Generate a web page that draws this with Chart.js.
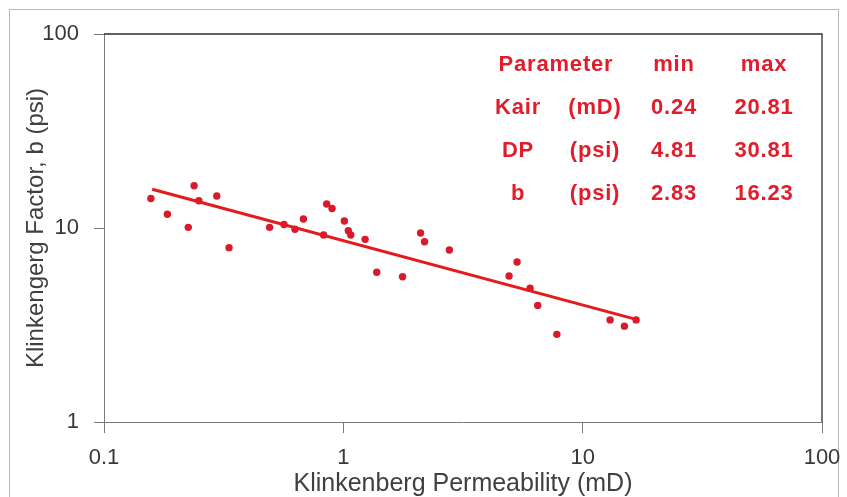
<!DOCTYPE html>
<html>
<head>
<meta charset="utf-8">
<title>Klinkenberg factor vs permeability</title>
<script src="https://cdn.jsdelivr.net/npm/chart.js@4.4.1/dist/chart.umd.min.js"></script>
<style>
  html, body { margin: 0; padding: 0; background: #fff; }
  #wrap { position: relative; width: 847px; height: 497px; overflow: hidden; }
  #frame { position: absolute; left: 9px; top: 9px; width: 830px; height: 510px;
           border: 1px solid #b8b8b8; box-sizing: border-box; pointer-events: none; }
  #chartBox { position: absolute; left: 0; top: 0; width: 847px; height: 497px; }
  #params { position: absolute; left: 0; top: 0; width: 847px; height: 497px;
            font: bold 22px "Liberation Sans", Arial, sans-serif; letter-spacing: 0.8px;
            color: #e21d2b; pointer-events: none; }
  .cell { position: absolute; transform: translate(-50%, -50%); white-space: nowrap; }
</style>
</head>
<body>
<div id="wrap">
  <div id="frame"></div>
  <div id="chartBox"><canvas id="kChart"></canvas></div>
  <div id="params"></div>
</div>
<script>
// Klinkenberg permeability (mD) and Klinkenberg factor b (psi)
const kPerm = [
  0.157, 0.184, 0.238, 0.225, 0.249, 0.296, 0.333, 0.492, 0.565, 0.628,
  0.681, 0.827, 0.852, 0.897, 1.01, 1.049, 1.074, 1.233, 1.379, 1.768,
  2.102, 2.184, 2.773, 4.925, 5.32, 6.03, 6.49, 7.8, 13.02, 14.94, 16.72,
];
const bFactor = [
  14.2, 11.77, 16.52, 10.08, 13.82, 14.62, 7.92, 10.08, 10.42, 9.85,
  11.13, 9.2, 13.3, 12.6, 10.87, 9.68, 9.2, 8.74, 5.91, 5.61,
  9.42, 8.5, 7.7, 5.66, 6.68, 4.89, 3.99, 2.83, 3.36, 3.12, 3.36,
];

// power-law trend line end points
const trendK = [0.159, 16.72];
const trendB = [15.83, 3.38];

// axis ticks
const xTicks = [0.1, 1, 10, 100];
const yTicks = [1, 10, 100];

// parameter table
const paramHeader = ["Parameter", "min", "max"];
const paramNames = ["Kair", "DP", "b"];
const paramUnits = ["(mD)", "(psi)", "(psi)"];
const paramMin = ["0.24", "4.81", "2.83"];
const paramMax = ["20.81", "30.81", "16.23"];

const RED_DOT = "#d91a2b";
const RED_LINE = "#e41a1e";
const AXIS_FONT = "'Liberation Sans', Arial, sans-serif";

// Parameter table as real text
function buildTable() {
  const box = document.getElementById("params");
  const colX = [518, 595, 674, 764];
  const rowY = [64, 107, 150, 193];
  const add = (text, x, y) => {
    const el = document.createElement("div");
    el.className = "cell";
    el.textContent = text;
    el.style.left = x + "px";
    el.style.top = y + "px";
    box.appendChild(el);
  };
  add(paramHeader[0], 556, rowY[0]);
  add(paramHeader[1], colX[2], rowY[0]);
  add(paramHeader[2], colX[3], rowY[0]);
  paramNames.forEach((name, i) => {
    add(name, colX[0], rowY[i + 1]);
    add(paramUnits[i], colX[1], rowY[i + 1]);
    add(paramMin[i], colX[2], rowY[i + 1]);
    add(paramMax[i], colX[3], rowY[i + 1]);
  });
}

// Top and right edges of the plot box
const plotFrame = {
  id: "plotFrame",
  beforeDatasetsDraw(chart) {
    const { ctx, chartArea: a } = chart;
    ctx.save();
    ctx.strokeStyle = "#2e2e2e";
    ctx.lineWidth = 1.3;
    ctx.beginPath();
    ctx.moveTo(a.left, a.top);
    ctx.lineTo(a.right, a.top);
    ctx.lineTo(a.right, a.bottom);
    ctx.stroke();
    ctx.restore();
  },
};

function initChart(canvas) {
  new Chart(canvas, {
    type: "scatter",
    data: {
      datasets: [
        {
          type: "line",
          label: "Trend",
          data: trendK.map((k, i) => ({ x: k, y: trendB[i] })),
          borderColor: RED_LINE,
          borderWidth: 3,
          pointRadius: 0,
          fill: false,
        },
        {
          label: "b",
          data: kPerm.map((k, i) => ({ x: k, y: bFactor[i] })),
          backgroundColor: RED_DOT,
          borderColor: RED_DOT,
          pointRadius: 3.7,
          borderWidth: 0,
        },
      ],
    },
    options: {
      responsive: true,
      maintainAspectRatio: false,
      animation: false,
      layout: { padding: { left: 0, top: 34, right: 25, bottom: 0 } },
      plugins: {
        legend: { display: false },
        tooltip: { enabled: true },
      },
      scales: {
        x: {
          type: "logarithmic",
          min: 0.1,
          max: 100,
          afterBuildTicks: (axis) => {
            axis.ticks = xTicks.map((v) => ({ value: v }));
          },
          afterFit: (s) => {
            s.height = 75;
            s.paddingLeft = 0;
            s.paddingRight = 0;
          },
          ticks: {
            callback: (v) => String(v),
            font: { family: AXIS_FONT, size: 22 },
            color: "#383838",
            padding: 12,
            maxRotation: 0,
            autoSkip: false,
          },
          grid: { drawOnChartArea: false, tickLength: 11, color: "#7a7a7a" },
          border: { color: "#7a7a7a" },
          title: {
            display: true,
            text: "Klinkenberg Permeability (mD)",
            font: { family: AXIS_FONT, size: 25, lineHeight: 1 },
            color: "#404040",
            padding: { top: 0, bottom: 0 },
          },
        },
        y: {
          type: "logarithmic",
          min: 1,
          max: 100,
          afterBuildTicks: (axis) => {
            axis.ticks = yTicks.map((v) => ({ value: v }));
          },
          afterFit: (s) => {
            s.width = 104;
            s.paddingTop = 0;
            s.paddingBottom = 0;
          },
          ticks: {
            callback: (v) => String(v),
            font: { family: AXIS_FONT, size: 22 },
            color: "#383838",
            padding: 15,
          },
          grid: { drawOnChartArea: false, tickLength: 10, color: "#7a7a7a" },
          border: { color: "#7a7a7a" },
          title: {
            display: true,
            text: "Klinkengerg Factor, b (psi)",
            font: { family: AXIS_FONT, size: 24, lineHeight: 1 },
            color: "#404040",
            padding: { top: 24, bottom: 0 },
          },
        },
      },
    },
    plugins: [plotFrame],
  });
}

document.addEventListener("DOMContentLoaded", () => {
  buildTable();
  initChart(document.getElementById("kChart"));
});
</script>
</body>
</html>
